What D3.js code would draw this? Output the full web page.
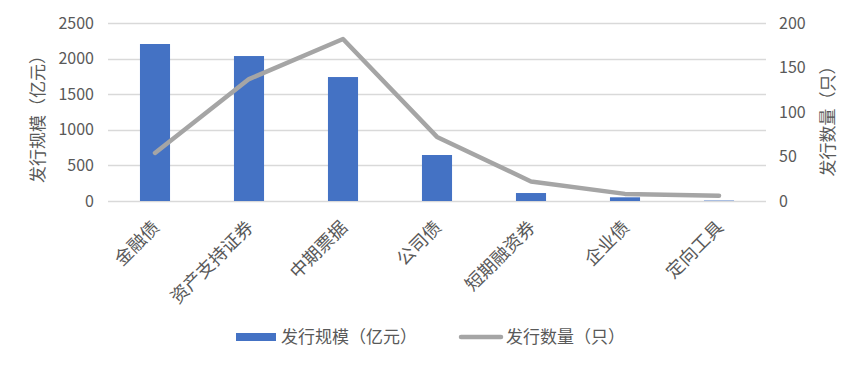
<!DOCTYPE html>
<html>
<head>
<meta charset="utf-8">
<script src="https://cdn.jsdelivr.net/npm/d3@7"></script>
<style>
  body { margin: 0; background: #fff; }
  text { font-family: "Noto Sans CJK SC", "Microsoft YaHei", sans-serif; fill: #595959; }
</style>
</head>
<body>
<div id="my_dataviz"></div>
<script>
// data
var categories = ["金融债", "资产支持证券", "中期票据", "公司债", "短期融资券", "企业债", "定向工具"];
var scaleValues = [2205, 2036, 1741, 646, 112, 52, 6];   // 发行规模（亿元）
var countValues = [54, 137, 182, 72, 22, 8, 6];           // 发行数量（只）
var leftTicks = [0, 500, 1000, 1500, 2000, 2500];
var rightTicks = [0, 50, 100, 150, 200];
var barName = "发行规模（亿元）";
var lineName = "发行数量（只）";

var width = 865, height = 366;
var plot = {left: 108, right: 766, top: 23, bottom: 201};

var svg = d3.select("#my_dataviz")
  .append("svg")
    .attr("width", width)
    .attr("height", height);

// scales
var x = d3.scaleBand()
  .domain(categories)
  .range([plot.left, plot.right]);
var yL = d3.scaleLinear()
  .domain([0, 2500])
  .range([plot.bottom, plot.top]);
var yR = d3.scaleLinear()
  .domain([0, 200])
  .range([plot.bottom, plot.top]);

// gridlines
svg.append("g")
  .selectAll("line")
  .data(leftTicks)
  .enter()
  .append("line")
    .attr("x1", plot.left)
    .attr("x2", plot.right)
    .attr("y1", function(d) { return Math.round(yL(d)) + 0.5; })
    .attr("y2", function(d) { return Math.round(yL(d)) + 0.5; })
    .attr("stroke", "#d9d9d9")
    .attr("stroke-width", 1.3);

// left axis labels
svg.append("g")
  .selectAll("text")
  .data(leftTicks)
  .enter()
  .append("text")
    .attr("x", 94)
    .attr("y", function(d) { return yL(d); })
    .attr("dy", "0.35em")
    .attr("text-anchor", "end")
    .style("font-size", "16px")
    .text(function(d) { return d; });

// right axis labels
svg.append("g")
  .selectAll("text")
  .data(rightTicks)
  .enter()
  .append("text")
    .attr("x", 779)
    .attr("y", function(d) { return yR(d); })
    .attr("dy", "0.35em")
    .attr("text-anchor", "start")
    .style("font-size", "16px")
    .text(function(d) { return d; });

// axis titles
svg.append("text")
  .attr("transform", "translate(38,115) rotate(-90)")
  .attr("text-anchor", "middle")
  .attr("dy", "0.35em")
  .style("font-size", "17px")
  .text(barName);
svg.append("text")
  .attr("transform", "translate(828,117) rotate(-90)")
  .attr("text-anchor", "middle")
  .attr("dy", "0.35em")
  .style("font-size", "17px")
  .text(lineName);

// bars
var barW = x.bandwidth() * 0.32;
svg.append("g")
  .selectAll("rect")
  .data(categories)
  .enter()
  .append("rect")
    .attr("x", function(d) { return x(d) + x.bandwidth() / 2 - barW / 2; })
    .attr("y", function(d, i) { return yL(scaleValues[i]); })
    .attr("width", barW)
    .attr("height", function(d, i) { return plot.bottom - yL(scaleValues[i]); })
    .attr("fill", "#4472c4");

// line
var line = d3.line()
  .x(function(d, i) { return x(categories[i]) + x.bandwidth() / 2; })
  .y(function(d) { return yR(d); });
svg.append("path")
  .datum(countValues)
  .attr("d", line)
  .attr("fill", "none")
  .attr("stroke", "#a5a5a5")
  .attr("stroke-width", 4.5)
  .attr("stroke-linejoin", "round")
  .attr("stroke-linecap", "round");

// category labels
svg.append("g")
  .selectAll("text")
  .data(categories)
  .enter()
  .append("text")
    .attr("transform", function(d) {
      return "translate(" + (x(d) + x.bandwidth() / 2 + 1) + ",224) rotate(-45)";
    })
    .attr("text-anchor", "end")
    .attr("dy", "0.35em")
    .style("font-size", "18px")
    .text(function(d) { return d; });

// legend
var legend = svg.append("g");
legend.append("rect")
  .attr("x", 236).attr("y", 333)
  .attr("width", 40).attr("height", 8)
  .attr("fill", "#4472c4");
legend.append("text")
  .attr("x", 281).attr("y", 337)
  .attr("dy", "0.35em")
  .style("font-size", "17px")
  .text(barName);
legend.append("line")
  .attr("x1", 461).attr("x2", 501)
  .attr("y1", 337).attr("y2", 337)
  .attr("stroke", "#a5a5a5")
  .attr("stroke-width", 4.5)
  .attr("stroke-linecap", "round");
legend.append("text")
  .attr("x", 506).attr("y", 337)
  .attr("dy", "0.35em")
  .style("font-size", "17px")
  .text(lineName);
</script>
</body>
</html>
